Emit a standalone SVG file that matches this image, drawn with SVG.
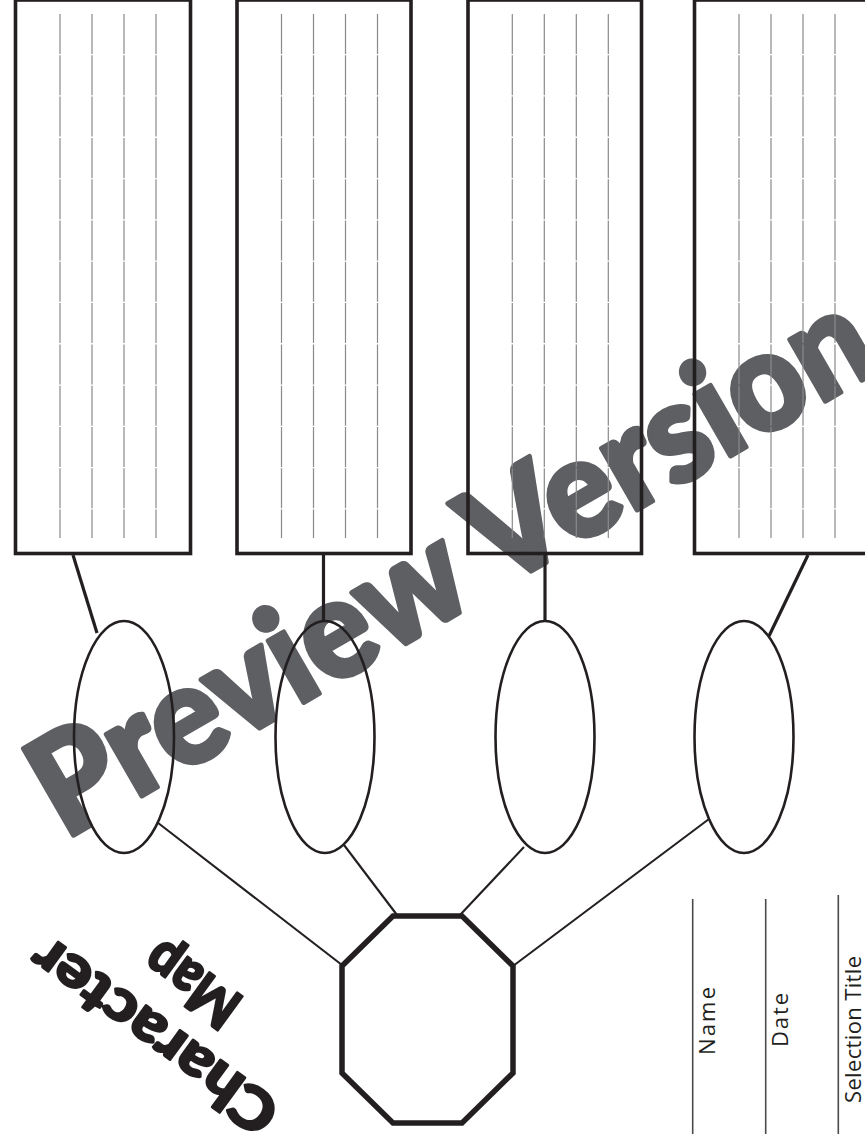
<svg xmlns="http://www.w3.org/2000/svg" width="865" height="1134" viewBox="0 0 865 1134">
<style>
.box{fill:none;stroke:#231f20;stroke-width:3.6}
.rule{stroke:#8a8a8a;stroke-width:1.2;stroke-dasharray:40 1.3}
.oval{fill:none;stroke:#231f20;stroke-width:2.6}
.thick{stroke:#231f20;stroke-width:3.2;fill:none}
.thin{stroke:#231f20;stroke-width:2.1;fill:none}
.oct{fill:none;stroke:#231f20;stroke-width:5.5;stroke-linejoin:miter}
.field{stroke:#4a4a4a;stroke-width:1.6}
.lbl{font-family:"Open Sans","Liberation Sans",sans-serif;font-size:22px;fill:#231f20}
.title{font-family:Lato,"DejaVu Sans",sans-serif;font-weight:900;font-size:58px;fill:#231f20;stroke:#231f20;stroke-width:2.5;stroke-linejoin:round}
.wm{font-family:Lato,"DejaVu Sans",sans-serif;font-weight:900;font-size:138px;fill:#5e5f63;stroke:#5e5f63;stroke-width:5;stroke-linejoin:round}
</style>

<g id="watermark">
  <text class="wm" transform="translate(452,566) rotate(-30)" x="0" y="44" text-anchor="middle" textLength="945" lengthAdjust="spacingAndGlyphs">Preview Version</text>
</g>

<g id="connectors">
  <line class="thick" x1="73" y1="555" x2="97" y2="633"/>
  <line class="thick" x1="323.5" y1="555" x2="323.5" y2="621"/>
  <line class="thick" x1="545" y1="555" x2="545" y2="621"/>
  <line class="thick" x1="808" y1="555" x2="769" y2="636"/>
  <line class="thin" x1="157.5" y1="822.5" x2="342" y2="965"/>
  <line class="thin" x1="344" y1="845" x2="397" y2="915"/>
  <line class="thin" x1="524" y1="847" x2="460" y2="915"/>
  <line class="thin" x1="709" y1="819" x2="513" y2="966"/>
</g>

<g id="box1">
  <rect class="box" x="15.5" y="0" width="175" height="553.5"/>
  <line class="rule" x1="60" y1="14" x2="60" y2="538"/>
  <line class="rule" x1="92" y1="14" x2="92" y2="538"/>
  <line class="rule" x1="124" y1="14" x2="124" y2="538"/>
  <line class="rule" x1="156" y1="14" x2="156" y2="538"/>
</g>
<g id="box2">
  <rect class="box" x="237" y="0" width="174" height="553.5"/>
  <line class="rule" x1="281.5" y1="14" x2="281.5" y2="538"/>
  <line class="rule" x1="313.5" y1="14" x2="313.5" y2="538"/>
  <line class="rule" x1="345.5" y1="14" x2="345.5" y2="538"/>
  <line class="rule" x1="377.5" y1="14" x2="377.5" y2="538"/>
</g>
<g id="box3">
  <rect class="box" x="468" y="0" width="173.5" height="553.5"/>
  <line class="rule" x1="512.3" y1="14" x2="512.3" y2="538"/>
  <line class="rule" x1="544.3" y1="14" x2="544.3" y2="538"/>
  <line class="rule" x1="576.3" y1="14" x2="576.3" y2="538"/>
  <line class="rule" x1="608.3" y1="14" x2="608.3" y2="538"/>
</g>
<g id="box4">
  <rect class="box" x="694.5" y="0" width="174" height="553.5"/>
  <line class="rule" x1="739" y1="14" x2="739" y2="538"/>
  <line class="rule" x1="771" y1="14" x2="771" y2="538"/>
  <line class="rule" x1="803" y1="14" x2="803" y2="538"/>
  <line class="rule" x1="835" y1="14" x2="835" y2="538"/>
</g>

<g id="oval1"><ellipse class="oval" cx="124" cy="737" rx="50" ry="116"/></g>
<g id="oval2"><ellipse class="oval" cx="325" cy="737" rx="49.5" ry="116"/></g>
<g id="oval3"><ellipse class="oval" cx="545" cy="737" rx="49.5" ry="116"/></g>
<g id="oval4"><ellipse class="oval" cx="744" cy="737" rx="49.5" ry="116"/></g>

<g id="center">
  <polygon class="oct" points="393,916 462,916 513,966 513,1073 462,1123 393,1123 342,1073 342,966"/>
</g>

<g id="title" transform="translate(166,1020) rotate(216)">
  <text class="title" x="0" y="0" text-anchor="middle" textLength="290" lengthAdjust="spacingAndGlyphs">Character</text>
  <text class="title" x="0" y="64" text-anchor="middle" textLength="104" lengthAdjust="spacingAndGlyphs">Map</text>
</g>

<g id="fields">
  <line class="field" x1="692.7" y1="899" x2="692.7" y2="1134"/>
  <line class="field" x1="765.7" y1="899" x2="765.7" y2="1134"/>
  <line class="field" x1="838.3" y1="895" x2="838.3" y2="1134"/>
  <text class="lbl" transform="translate(715,1021) rotate(-90)" text-anchor="middle" textLength="68">Name</text>
  <text class="lbl" transform="translate(788,1020) rotate(-90)" text-anchor="middle" textLength="54">Date</text>
  <text class="lbl" transform="translate(861,1029.5) rotate(-90)" text-anchor="middle" textLength="147">Selection Title</text>
</g>
</svg>
